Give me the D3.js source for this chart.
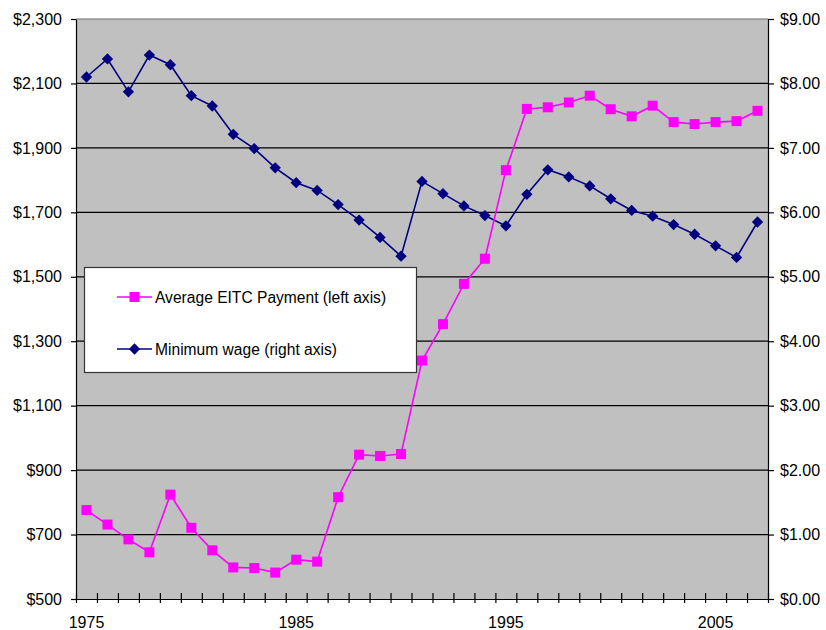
<!DOCTYPE html>
<html>
<head>
<meta charset="utf-8">
<script src="https://cdn.jsdelivr.net/npm/d3@7"></script>
<style>
  html, body { margin: 0; padding: 0; background: #fff; }
  svg { display: block; font-family: Arial, "Liberation Sans", sans-serif; }
</style>
</head>
<body>
<svg id="chart" width="826" height="630"></svg>
<script>
// Years on the category axis
const years = d3.range(1975, 2008);

// Average EITC payment, dollars (left axis)
const eitcPayment = [776, 731, 685, 645, 824, 721, 651, 598, 596, 582, 622, 616, 816,
  948, 944, 950, 1240, 1353, 1478, 1556, 1831, 2021, 2026, 2041, 2062, 2020, 1998,
  2031, 1980, 1974, 1980, 1983, 2015];

// Minimum wage, dollars per hour (right axis)
const minimumWage = [8.10, 8.38, 7.87, 8.44, 8.29, 7.81, 7.65, 7.21, 6.99, 6.69, 6.46,
  6.34, 6.12, 5.88, 5.61, 5.32, 6.48, 6.29, 6.10, 5.95, 5.79, 6.28, 6.66, 6.55, 6.41,
  6.21, 6.03, 5.94, 5.81, 5.66, 5.48, 5.30, 5.85];

const leftTicks = d3.range(500, 2301, 200);
const rightTicks = d3.range(0, 9.01, 1);
const labeledYears = [1975, 1985, 1995, 2005];

const seriesNames = ["Average EITC Payment (left axis)", "Minimum wage (right axis)"];

const plot = { left: 76, right: 768, top: 19, bottom: 599 };
const svg = d3.select("#chart");

const x = d3.scaleBand().domain(years).range([plot.left, plot.right]).padding(0);
const xEdge = d3.scaleLinear().domain([years[0] - 0.5, years[years.length - 1] + 0.5])
  .range([plot.left, plot.right]);
const yL = d3.scaleLinear().domain([500, 2300]).range([plot.bottom, plot.top]);
const yR = d3.scaleLinear().domain([0, 9]).range([plot.bottom, plot.top]);
const cx = yr => x(yr) + x.bandwidth() / 2;

// plot background
svg.append("rect")
  .attr("x", plot.left).attr("y", plot.top)
  .attr("width", plot.right - plot.left).attr("height", plot.bottom - plot.top)
  .attr("fill", "#c0c0c0");

// horizontal gridlines
svg.append("g").selectAll("line")
  .data(leftTicks.slice(1))
  .join("line")
  .attr("x1", plot.left).attr("x2", plot.right)
  .attr("y1", d => yL(d)).attr("y2", d => yL(d))
  .attr("stroke", d => d === 2300 ? "#707070" : "#000")
  .attr("stroke-width", 1.2);

// left axis
const gL = svg.append("g")
  .attr("transform", `translate(${plot.left},0)`)
  .call(d3.axisLeft(yL).tickValues(leftTicks)
    .tickFormat(d => "$" + d3.format(",")(d))
    .tickSize(5).tickPadding(9).tickSizeOuter(0));

// right axis
const gR = svg.append("g")
  .attr("transform", `translate(${plot.right},0)`)
  .call(d3.axisRight(yR).tickValues(rightTicks)
    .tickFormat(d => "$" + d3.format(".2f")(d))
    .tickSize(6).tickPadding(6).tickSizeOuter(0));

// bottom axis: ticks on category boundaries
const boundaries = d3.range(years[0] - 0.5, years[years.length - 1] + 0.51, 1);
const gB = svg.append("g")
  .attr("transform", `translate(0,${plot.bottom})`)
  .call(d3.axisBottom(xEdge).tickValues(boundaries).tickFormat("")
    .tickSize(4).tickSizeOuter(0));
gB.selectAll(".tick line").attr("y1", -6).attr("y2", 4);

// year labels
const gY = svg.append("g")
  .attr("transform", `translate(0,${plot.bottom})`)
  .call(d3.axisBottom(x).tickValues(labeledYears).tickSize(0).tickPadding(18));
gY.select(".domain").remove();

[gL, gR, gB, gY].forEach(g => {
  g.selectAll("text").attr("font-size", 16).attr("fill", "#000")
    .attr("font-family", "Arial, 'Liberation Sans', sans-serif");
  g.selectAll("line, path").attr("stroke", "#000").attr("stroke-width", 1.2);
});

// series lines
const eitcLine = d3.line().x((d, i) => cx(years[i])).y(d => yL(d));
const wageLine = d3.line().x((d, i) => cx(years[i])).y(d => yR(d));

svg.append("path").datum(minimumWage)
  .attr("d", wageLine).attr("fill", "none")
  .attr("stroke", "#000080").attr("stroke-width", 1.6);

svg.append("path").datum(eitcPayment)
  .attr("d", eitcLine).attr("fill", "none")
  .attr("stroke", "#ff00ff").attr("stroke-width", 1.6);

const square = d3.symbol().type(d3.symbolSquare).size(100);
const diamond = d3.symbol().type(d3.symbolSquare).size(64);

svg.append("g").selectAll("path")
  .data(minimumWage)
  .join("path")
  .attr("d", diamond)
  .attr("transform", (d, i) => `translate(${cx(years[i])},${yR(d)}) rotate(45)`)
  .attr("fill", "#000080");

svg.append("g").selectAll("path")
  .data(eitcPayment)
  .join("path")
  .attr("d", square)
  .attr("transform", (d, i) => `translate(${cx(years[i])},${yL(d)})`)
  .attr("fill", "#ff00ff");

// legend
const legend = svg.append("g");
legend.append("rect")
  .attr("x", 84.5).attr("y", 267.5).attr("width", 332).attr("height", 105)
  .attr("fill", "#fff").attr("stroke", "#333").attr("stroke-width", 1.2);

const legendItems = [
  { name: seriesNames[0], color: "#ff00ff", marker: square, rot: 0, y: 297 },
  { name: seriesNames[1], color: "#000080", marker: diamond, rot: 45, y: 349 }
];
legendItems.forEach(item => {
  legend.append("line")
    .attr("x1", 117).attr("x2", 152).attr("y1", item.y).attr("y2", item.y)
    .attr("stroke", item.color).attr("stroke-width", 1.6);
  legend.append("path")
    .attr("d", item.marker)
    .attr("transform", `translate(134.5,${item.y}) rotate(${item.rot})`)
    .attr("fill", item.color);
  legend.append("text")
    .attr("x", 155).attr("y", item.y + 6)
    .attr("font-size", 15.6).attr("fill", "#000")
    .text(item.name);
});
</script>
</body>
</html>
